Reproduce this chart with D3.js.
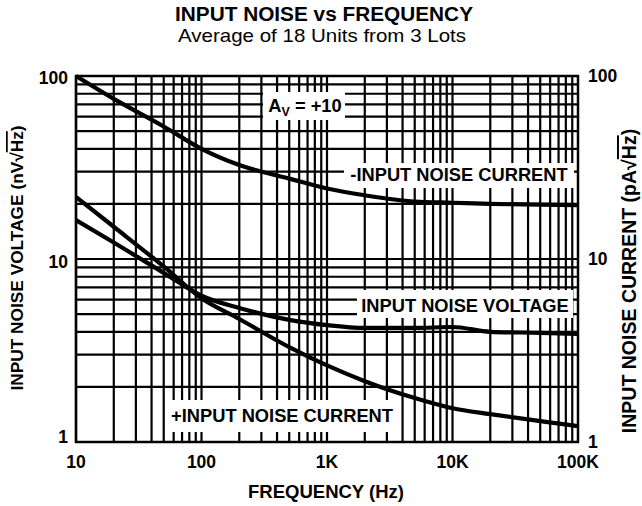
<!DOCTYPE html>
<html>
<head>
<meta charset="utf-8">
<script src="https://cdn.jsdelivr.net/npm/d3@7"></script>
<style>
  body { margin: 0; background: #fff; }
  svg text { font-family: "Liberation Sans", Arial, sans-serif; fill: #000; }
</style>
</head>
<body>
<svg width="642" height="506"></svg>
<script>
// data
const freqs = [10, 20, 50, 100, 200, 500, 1000, 2000, 5000, 10000, 20000, 50000, 100000];
const negCurrent = [100, 75, 53, 40, 32.6, 27.5, 24.3, 22.3, 20.6, 20.3, 20, 19.8, 19.7];
const voltage = [16.3, 12.3, 8.4, 6.3, 5.4, 4.65, 4.35, 4.2, 4.2, 4.25, 4.0, 3.95, 3.9];
const posCurrent = [21.8, 15, 9.1, 6.1, 4.7, 3.3, 2.62, 2.15, 1.74, 1.53, 1.42, 1.3, 1.22];

const xTicks = [10, 100, 1000, 10000, 100000];
const xTickLabels = ['10', '100', '1K', '10K', '100K'];
const yTicks = [1, 10, 100];

const margin = { top: 76, right: 64, bottom: 64, left: 76 },
  width = 578 - margin.left,
  height = 442 - margin.top;

const svg = d3.select('svg');
const g = svg.append('g')
  .attr('transform', `translate(${margin.left}, ${margin.top})`);

const x = d3.scaleLog().domain([10, 100000]).range([0, width]);
const y = d3.scaleLog().domain([1, 100]).range([height, 0]);

// grid: 1..9 in each decade
const xGrid = d3.range(1, 5).flatMap(e => d3.range(1, 10).map(m => m * Math.pow(10, e)));
const yGrid = d3.range(0, 2).flatMap(e => d3.range(1, 10).map(m => m * Math.pow(10, e)));

g.selectAll('.vgrid')
  .data(xGrid)
  .enter()
  .append('line')
  .attr('x1', d => x(d)).attr('x2', d => x(d))
  .attr('y1', 0).attr('y2', height)
  .attr('stroke', '#000').attr('stroke-width', 2.2);

g.selectAll('.hgrid')
  .data(yGrid)
  .enter()
  .append('line')
  .attr('y1', d => y(d)).attr('y2', d => y(d))
  .attr('x1', 0).attr('x2', width)
  .attr('stroke', '#000').attr('stroke-width', 2.2);

g.append('rect')
  .attr('width', width).attr('height', height)
  .attr('fill', 'none').attr('stroke', '#000').attr('stroke-width', 2.5);

// curves
const line = d3.line()
  .x(d => x(d[0]))
  .y(d => y(d[1]))
  .curve(d3.curveMonotoneX);

[negCurrent, voltage, posCurrent].forEach(series => {
  g.append('path')
    .datum(freqs.map((f, i) => [f, series[i]]))
    .attr('d', line)
    .attr('fill', 'none')
    .attr('stroke', '#000')
    .attr('stroke-width', 4.2)
    .attr('stroke-linejoin', 'round');
});

// boxed labels (page coords)
function boxLabel(x0, y0, w, h, cx, base, build) {
  svg.append('rect')
    .attr('x', x0).attr('y', y0)
    .attr('width', w).attr('height', h)
    .attr('fill', '#fff');
  const t = svg.append('text')
    .attr('x', cx)
    .attr('y', base)
    .attr('text-anchor', 'middle')
    .attr('font-size', 18.3)
    .attr('font-weight', 'bold');
  build(t);
}

boxLabel(263, 92, 82, 28, 305, 112, t => {
  t.append('tspan').text('A');
  t.append('tspan').attr('font-size', 12.5).attr('dy', 4).text('V');
  t.append('tspan').attr('dy', -4).text(' = +10');
});
boxLabel(344, 163, 230, 25, 459, 181, t => t.text('-INPUT NOISE CURRENT'));
boxLabel(357, 290, 216, 28, 465, 312, t => t.text('INPUT NOISE VOLTAGE'));
boxLabel(167, 400, 230, 32, 282, 422, t => t.text('+INPUT NOISE CURRENT'));

// axis tick labels
g.selectAll('.xlab')
  .data(xTicks)
  .enter()
  .append('text')
  .attr('x', d => x(d))
  .attr('y', height + 26)
  .attr('text-anchor', 'middle')
  .attr('font-size', 17.5)
  .attr('font-weight', 'bold')
  .text((d, i) => xTickLabels[i]);

const leftOffset = { 1: 1, 10: 9, 100: 8 };
g.selectAll('.ylabL')
  .data(yTicks)
  .enter()
  .append('text')
  .attr('x', -8)
  .attr('y', d => y(d) + leftOffset[d])
  .attr('text-anchor', 'end')
  .attr('font-size', 17.5)
  .attr('font-weight', 'bold')
  .text(d => d);

g.selectAll('.ylabR')
  .data(yTicks)
  .enter()
  .append('text')
  .attr('x', width + 10)
  .attr('y', d => y(d) + 6)
  .attr('text-anchor', 'start')
  .attr('font-size', 17.5)
  .attr('font-weight', 'bold')
  .text(d => d);

// titles
svg.append('text')
  .attr('x', 324).attr('y', 21)
  .attr('text-anchor', 'middle')
  .attr('font-size', 20).attr('font-weight', 'bold')
  .attr('textLength', 298).attr('lengthAdjust', 'spacingAndGlyphs')
  .text('INPUT NOISE vs FREQUENCY');
svg.append('text')
  .attr('x', 322).attr('y', 42)
  .attr('text-anchor', 'middle')
  .attr('font-size', 19)
  .attr('textLength', 288).attr('lengthAdjust', 'spacingAndGlyphs')
  .text('Average of 18 Units from 3 Lots');

svg.append('text')
  .attr('x', 326).attr('y', 498)
  .attr('text-anchor', 'middle')
  .attr('font-size', 18.5).attr('font-weight', 'bold')
  .text('FREQUENCY (Hz)');

function sideLabel(cx, cy, size, main, unit) {
  const t = svg.append('text')
    .attr('transform', `translate(${cx}, ${cy}) rotate(-90)`)
    .attr('text-anchor', 'middle')
    .attr('font-size', size).attr('font-weight', 'bold');
  t.append('tspan').text(`${main} (${unit}\u221A`);
  t.append('tspan').style('text-decoration', 'overline').text('Hz');
  t.append('tspan').text(')');
}
sideLabel(23, 258, 17.3, 'INPUT NOISE VOLTAGE', 'nV');
sideLabel(636, 281, 19.5, 'INPUT NOISE CURRENT', 'pA');
</script>
</body>
</html>
